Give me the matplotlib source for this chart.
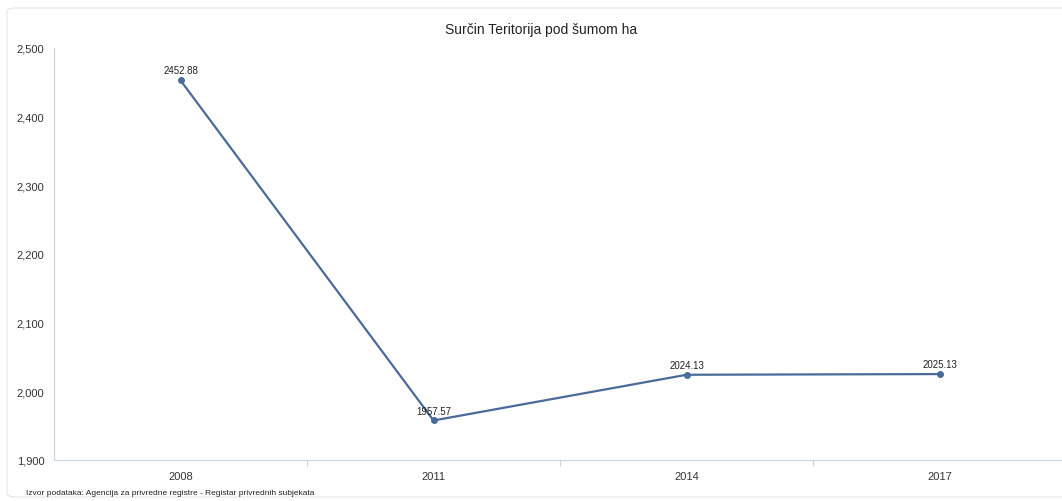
import matplotlib
matplotlib.use("Agg")
import matplotlib.pyplot as plt
from matplotlib.patches import FancyBboxPatch

plt.rcParams["font.family"] = ["Liberation Sans", "DejaVu Sans"]

years = ["2008", "2011", "2014", "2017"]
values = [2452.88, 1957.57, 2024.13, 2025.13]
yticks = [1900, 2000, 2100, 2200, 2300, 2400, 2500]
title = "Surčin Teritorija pod šumom ha"
source = "Izvor podataka: Agencija za privredne registre - Registar privrednih subjekata"

W, H = 1062, 502
fig = plt.figure(figsize=(W / 100, H / 100), dpi=100)
fig.patch.set_facecolor("white")

box = FancyBboxPatch((7 / W, 4 / H), (W + 20) / W, (H - 13) / H,
                     boxstyle="round,pad=0,rounding_size=0.008",
                     transform=fig.transFigure, facecolor="none",
                     edgecolor="#e6e6e6", linewidth=0.8, zorder=-1)
fig.patches.append(box)

ax = fig.add_axes([54 / W, 41 / H, (W - 54) / W, (461 - 49) / H])
ax.set_facecolor("none")
x = list(range(len(years)))
ax.plot(x, values, color="#4a6b9a", linewidth=1.6, marker="o", markersize=4,
        zorder=3, clip_on=False)
for xi, v in zip(x, values):
    ax.annotate(f"{v:.2f}", (xi, v), xytext=(0, 3.5), textcoords="offset points",
                ha="center", va="bottom", fontsize=7, color="#222222")

ax.set_xlim(-0.5, 3.484)
ax.set_ylim(1900, 2500)
ax.set_yticks(yticks)
ax.set_yticklabels([f"{t:,}" for t in yticks], fontsize=8, color="#333333")
ax.set_xticks(x)
ax.set_xticklabels(years, fontsize=8, color="#333333")
ax.set_xticks([0.5, 1.5, 2.5], minor=True)
ax.tick_params(axis="x", which="major", length=0, pad=8)
ax.tick_params(axis="x", which="minor", length=4, color="#c8d4e3", width=0.8)
ax.tick_params(axis="y", length=0, pad=7)
for s in ["top", "right"]:
    ax.spines[s].set_visible(False)
for s in ["left", "bottom"]:
    ax.spines[s].set_color("#c8d4e3")
    ax.spines[s].set_linewidth(0.8)

fig.text(541 / W, 1 - 30 / H, title, ha="center", va="center", fontsize=10,
         color="#222222")
fig.text(26 / W, 1 - 494 / H, source, ha="left", va="center", fontsize=6,
         color="#222222")

fig.savefig("out.png", dpi=100)
